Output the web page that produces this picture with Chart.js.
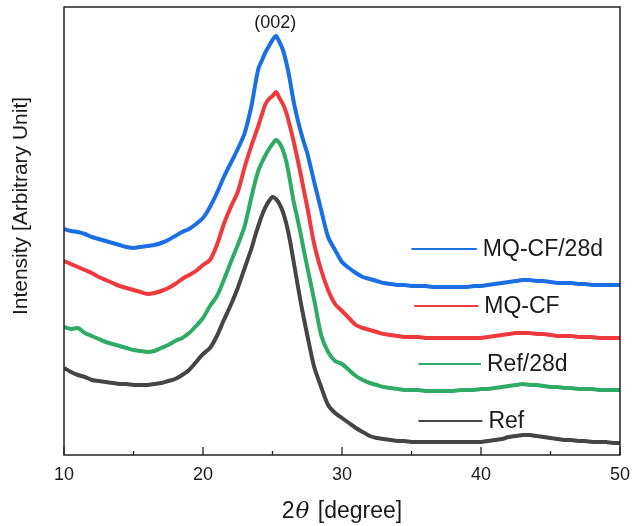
<!DOCTYPE html>
<html>
<head>
<meta charset="utf-8">
<script src="https://cdn.jsdelivr.net/npm/chart.js@4.4.1/dist/chart.umd.min.js"></script>
<style>
  html, body { margin: 0; padding: 0; background: #fff; }
  #wrap { width: 632px; height: 526px; }
</style>
</head>
<body>
<div id="wrap"><canvas id="xrd"></canvas></div>
<script>
// 2theta positions (degree), finer around the (002) peak
const twoTheta = [
  10, 10.5, 11, 11.5, 12, 12.5, 13, 13.5, 14, 14.5,
  15, 15.5, 16, 16.5, 17, 17.5, 18, 18.5, 19, 19.5,
  20, 20.5, 21, 21.5, 22, 22.5, 23,
  23.5, 23.75, 24, 24.25, 24.5, 24.75, 25, 25.25, 25.5, 25.75,
  26, 26.25, 26.5, 26.75, 27, 27.25, 27.5,
  28, 28.5, 29, 29.5, 30, 30.5, 31, 31.5, 32, 32.5,
  33, 33.5, 34, 34.5, 35, 35.5, 36, 36.5, 37, 37.5,
  38, 38.5, 39, 39.5, 40, 40.5, 41, 41.5, 42, 42.5,
  43, 43.5, 44, 44.5, 45, 45.5, 46, 46.5, 47, 47.5,
  48, 48.5, 49, 49.5, 50
];

// intensities (arbitrary, stacked with offsets as in the figure)
const mqcf28d = [
  226, 224, 223, 221, 218, 216, 214, 212, 210, 208,
  207, 208, 209, 210, 212, 215, 219, 223, 226, 231,
  237, 248, 262, 278, 292, 306, 322,
  350, 370, 387, 395, 403, 409, 415, 419, 413, 405,
  392, 375, 355, 339, 325, 313, 302,
  273, 245, 218, 205, 193, 187, 182, 178, 176, 174,
  172, 171, 170, 170, 169, 169, 169, 168, 168, 168,
  168, 168, 168, 169, 169, 170, 171, 172, 173, 174,
  175, 175, 174, 174, 173, 172, 172, 172, 171, 171,
  170, 170, 170, 170, 170
];
const mqcf = [
  194, 191, 188, 185, 182, 178, 175, 172, 169, 167,
  165, 163, 161, 162, 164, 167, 171, 176, 180, 184,
  190, 195, 210, 231, 248, 263, 288,
  310, 320, 330, 341, 351, 356, 359, 363, 357, 351,
  342, 329, 315, 299, 283, 265, 248,
  211, 185, 165, 151, 144, 137, 130, 127, 125, 123,
  121, 120, 119, 118, 118, 118, 117, 117, 117, 117,
  117, 117, 117, 117, 117, 118, 119, 120, 121, 122,
  122, 122, 121, 121, 120, 119, 119, 119, 118, 118,
  118, 117, 117, 117, 117
];
const ref28d = [
  128, 126, 127, 122, 119, 116, 113, 111, 109, 107,
  105, 104, 103, 104, 107, 110, 114, 117, 122, 129,
  137, 149, 159, 175, 193, 210, 229,
  259, 273, 285, 293, 300, 306, 311, 315, 312, 305,
  293, 275, 255, 239, 223, 205, 188,
  155, 120, 103, 94, 91, 85, 79, 75, 72, 70,
  68, 67, 66, 65, 65, 65, 64, 64, 64, 64,
  64, 65, 65, 65, 66, 66, 67, 68, 69, 70,
  71, 70, 70, 69, 68, 68, 67, 67, 66, 66,
  66, 65, 65, 65, 65
];
const ref = [
  87, 83, 80, 78, 75, 74, 73, 72, 71, 71,
  70, 70, 70, 71, 72, 74, 76, 80, 85, 93,
  101, 107, 119, 135, 150, 167, 187,
  207, 219, 230, 240, 248, 254, 258, 256, 251, 243,
  231, 215, 195, 175, 155, 137, 120,
  88, 68, 50, 42, 37, 32, 27, 23, 19, 17,
  16, 15, 14, 14, 13, 13, 13, 13, 13, 13,
  13, 13, 13, 13, 13, 14, 15, 16, 18, 19,
  20, 20, 19, 18, 17, 16, 15, 15, 14, 14,
  13, 13, 13, 12, 12
];

const seriesNames = ['MQ-CF/28d', 'MQ-CF', 'Ref/28d', 'Ref'];
const seriesColors = ['#1a6fe3', '#ef3a3d', '#2fab66', '#454545'];
const xTicks = [10, 20, 30, 40, 50];
const peakLabel = '(002)';

// label placement next to each curve: [x start, x end, y] in data units
const tagPos = [[35.0, 39.7, 206], [35.2, 39.8, 149], [35.5, 40.0, 91], [35.5, 40.1, 34]];

const toPoints = arr => arr.map((v, i) => ({ x: twoTheta[i], y: v }));

const decor = {
    id: 'decor',
    afterDraw(chart) {
        const { ctx, chartArea: a, scales: { x, y } } = chart;
        ctx.save();
        // frame
        ctx.strokeStyle = '#222';
        ctx.lineWidth = 1.5;
        ctx.strokeRect(a.left, a.top, a.right - a.left, a.bottom - a.top);

        // inward ticks on the bottom axis
        ctx.lineWidth = 1.3;
        for (let v = 10; v <= 50; v += 5) {
            const px = x.getPixelForValue(v);
            const len = v % 10 === 0 ? 8 : 4;
            ctx.beginPath();
            ctx.moveTo(px, a.bottom);
            ctx.lineTo(px, a.bottom - len);
            ctx.stroke();
        }

        // series tags
        ctx.font = '23px "Liberation Sans", Arial, sans-serif';
        ctx.textBaseline = 'middle';
        ctx.textAlign = 'left';
        tagPos.forEach((p, i) => {
            const x0 = x.getPixelForValue(p[0]);
            const x1 = x.getPixelForValue(p[1]);
            const py = y.getPixelForValue(p[2]);
            ctx.strokeStyle = seriesColors[i];
            ctx.lineWidth = 2.2;
            ctx.beginPath();
            ctx.moveTo(x0, py);
            ctx.lineTo(x1, py);
            ctx.stroke();
            ctx.fillStyle = '#1a1a1a';
            ctx.fillText(seriesNames[i], x1 + 6, py + 1);
        });

        // peak label
        ctx.font = '18px "Liberation Sans", Arial, sans-serif';
        ctx.textAlign = 'center';
        ctx.fillText(peakLabel, x.getPixelForValue(25.2), 23);

        // x title: 2θ [degree]
        const cx = (a.left + a.right) / 2;
        const ty = 512;
        ctx.textAlign = 'left';
        const fReg = '23px "Liberation Sans", Arial, sans-serif';
        const fIt = 'italic 23px "DejaVu Serif", "Liberation Serif", serif';
        ctx.font = fReg;
        const w1 = ctx.measureText('2').width;
        const w3 = ctx.measureText(' [degree]').width;
        ctx.font = fIt;
        const w2 = ctx.measureText('\u03b8').width;
        const sx = cx - (w1 + w2 + w3 + 3) / 2;
        ctx.font = fReg;
        ctx.fillText('2', sx, ty);
        ctx.font = fIt;
        ctx.fillText('\u03b8', sx + w1 + 1, ty);
        ctx.font = fReg;
        ctx.fillText(' [degree]', sx + w1 + w2 + 3, ty);

        // y title
        ctx.translate(21, 206);
        ctx.rotate(-Math.PI / 2);
        ctx.textAlign = 'center';
        ctx.font = '21px "Liberation Sans", Arial, sans-serif';
        ctx.fillText('Intensity [Arbitrary Unit]', 0, 0);
        ctx.restore();
    }
};

new Chart(document.getElementById('xrd'), {
    type: 'line',
    data: {
        datasets: [mqcf28d, mqcf, ref28d, ref].map((d, i) => ({
            label: seriesNames[i],
            data: toPoints(d),
            borderColor: seriesColors[i],
            borderWidth: 4,
            pointRadius: 0,
            tension: 0.25,
            fill: false
        }))
    },
    options: {
        responsive: true,
        maintainAspectRatio: false,
        animation: false,
        layout: { padding: { top: 7, right: 12, left: 0, bottom: 0 } },
        plugins: { legend: { display: false }, tooltip: { enabled: false } },
        scales: {
            x: {
                type: 'linear',
                min: 10,
                max: 50,
                afterFit: s => { s.height = 71; s.paddingLeft = 0; s.paddingRight = 0; },
                afterBuildTicks: s => { s.ticks = xTicks.map(v => ({ value: v })); },
                grid: { display: false, drawTicks: false },
                border: { display: false },
                ticks: {
                    padding: 9,
                    color: '#1a1a1a',
                    font: { family: '"Liberation Sans", Arial, sans-serif', size: 18 }
                }
            },
            y: {
                min: 0,
                max: 448,
                afterFit: s => { s.width = 64; },
                grid: { display: false, drawTicks: false },
                border: { display: false },
                ticks: { display: false }
            }
        }
    },
    plugins: [decor]
});
</script>
</body>
</html>
